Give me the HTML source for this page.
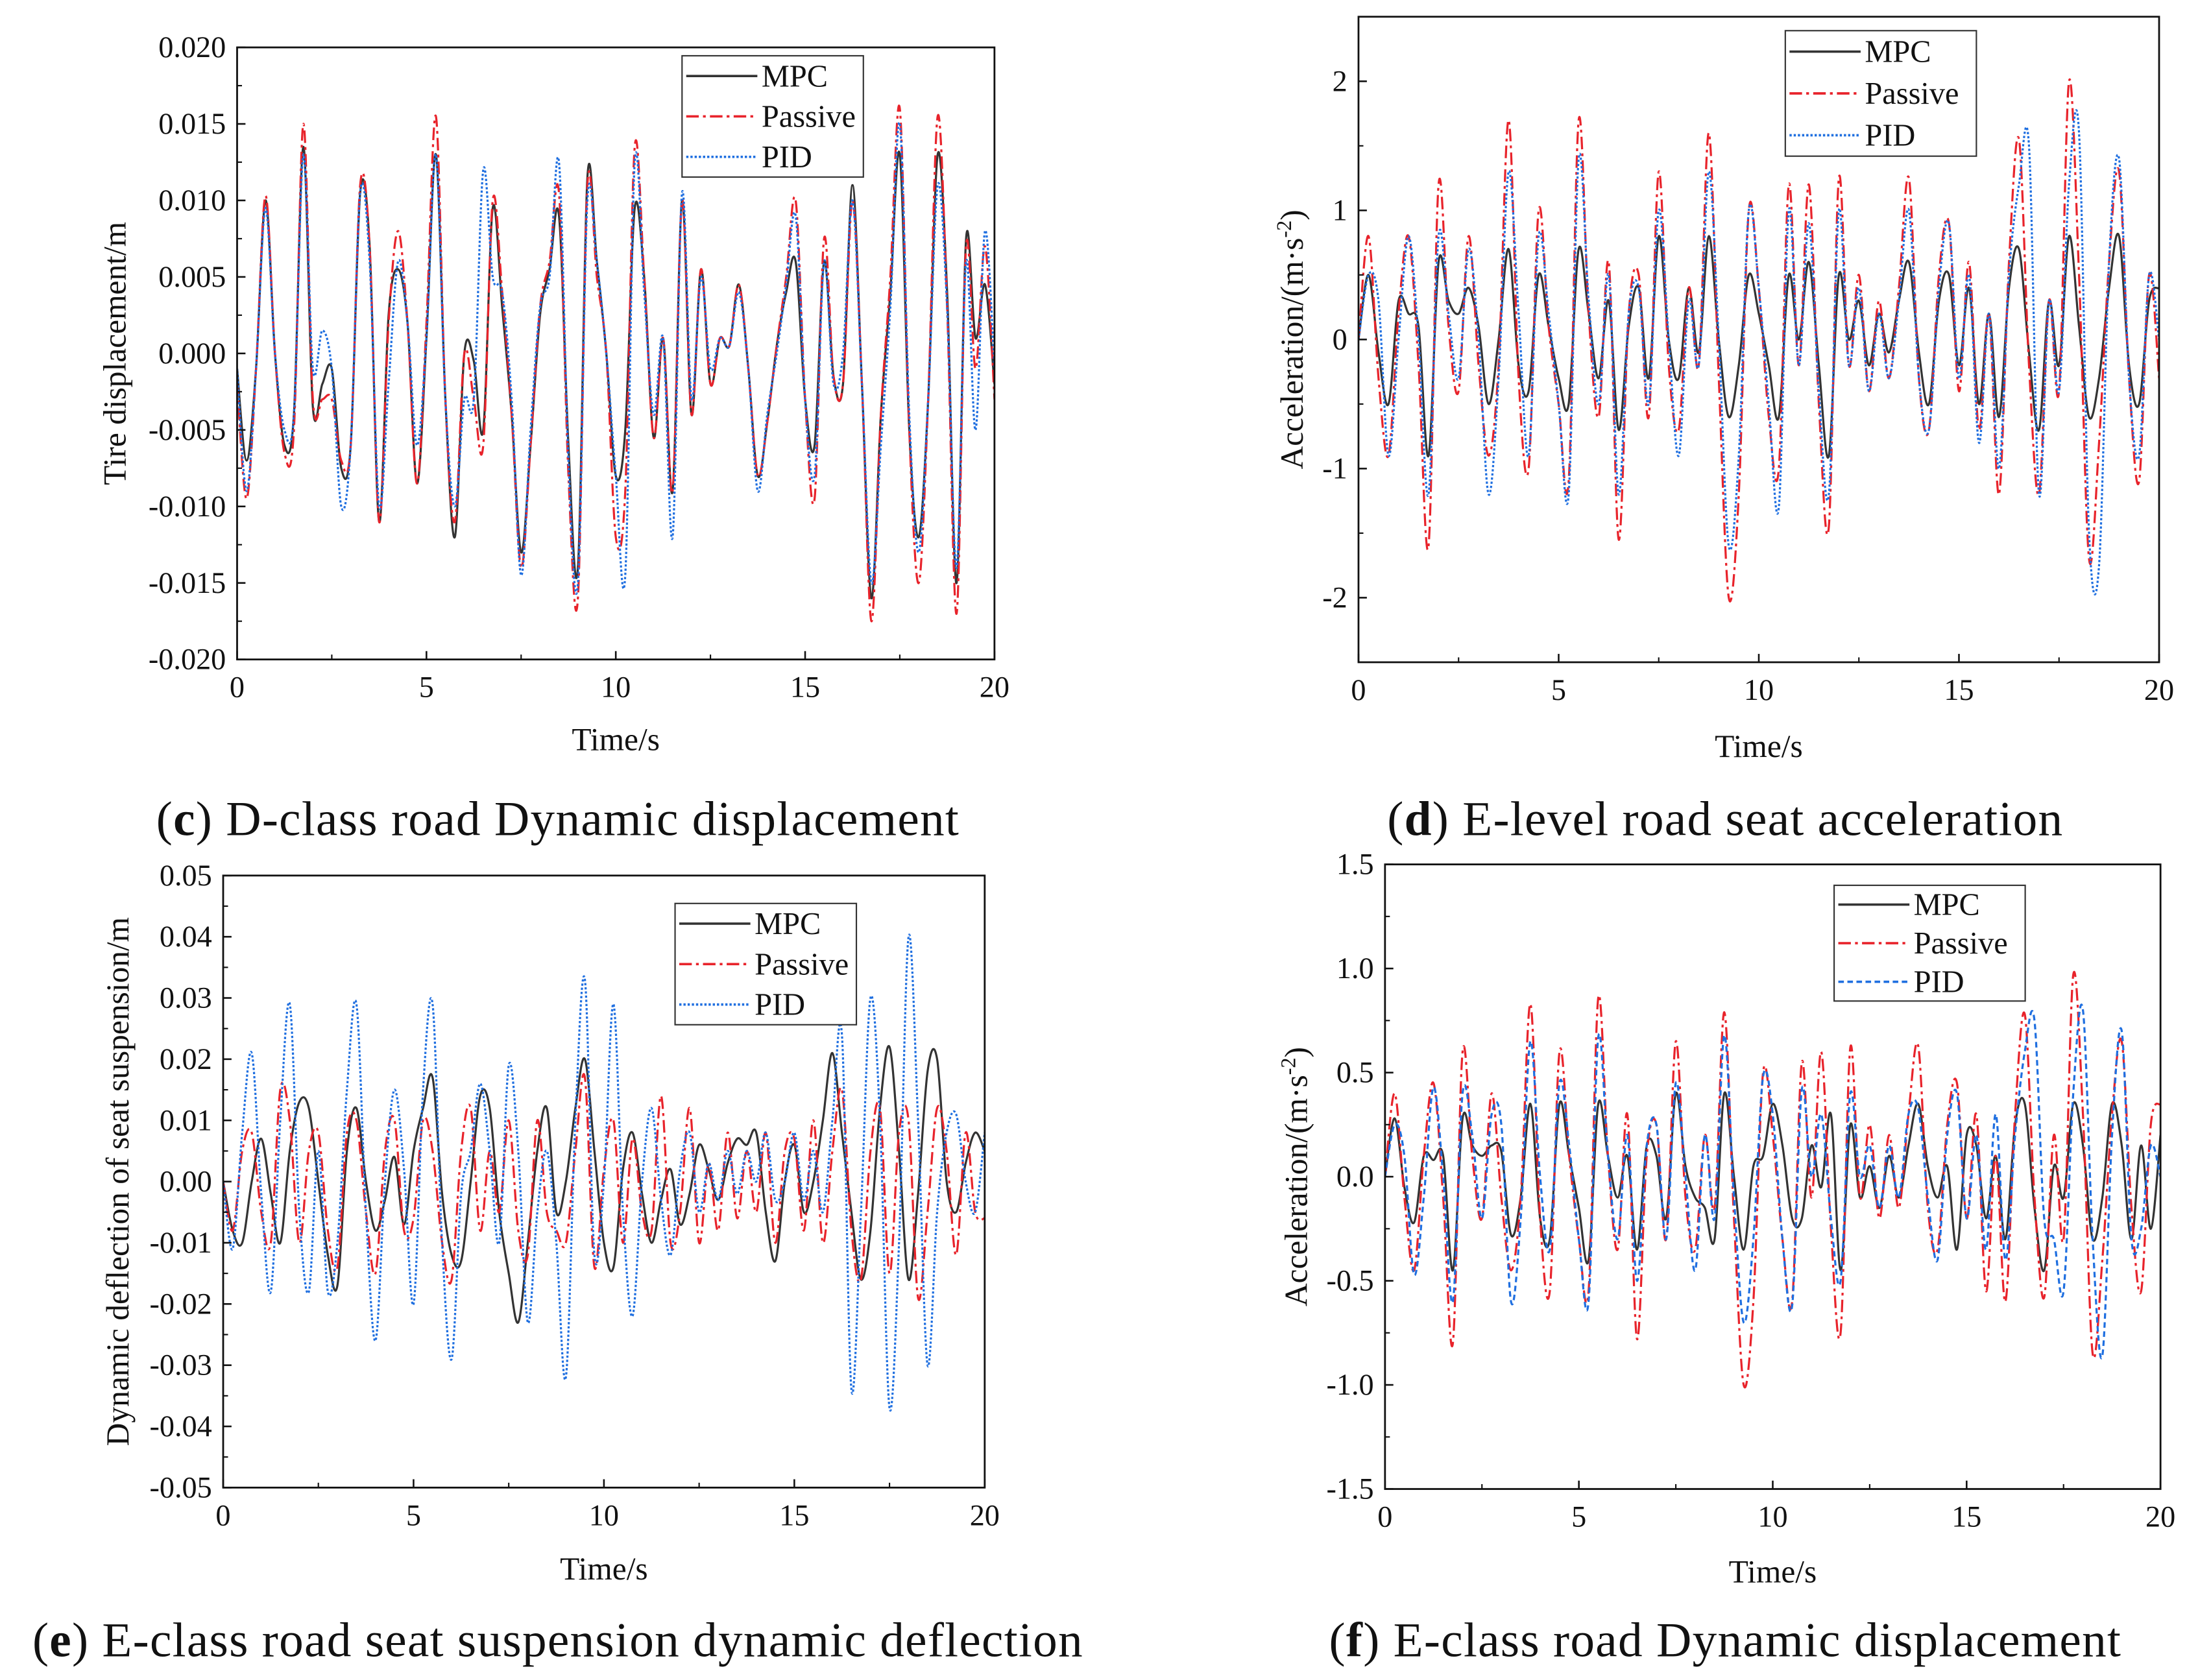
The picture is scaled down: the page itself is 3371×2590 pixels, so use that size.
<!DOCTYPE html>
<html><head><meta charset="utf-8"><style>
html,body{margin:0;padding:0;background:#fff}
svg{display:block}
text{font-family:"Liberation Serif",serif;fill:#111}
</style></head><body>
<svg id="fig" width="3371" height="2590" viewBox="0 0 1568 1205" preserveAspectRatio="none" xmlns="http://www.w3.org/2000/svg"></svg>
<script>
// ---------- data ----------
const times = []; for (let i = 0; i <= 80; i++) times.push(i * 0.25);
const xTicks = [0, 5, 10, 15, 20];

const cMPC = [-1,-7,-1,10,0,-6,-4,13.5,-3.5,-2,-1,-7.5,-6,10.5,7,-11,2.5,5.5,2,-8.5,1,13,-3,-12,0,-0.5,-5,9.5,3,-4,-13,-6,2.5,5.5,9,-6,-14,11.5,6,0,-8,-5,9.5,5,-5.5,1,-9,10,-4,5.5,-2,1,0.5,4.5,-1,-8,-4.5,0.5,4,6,-3,-6,6,-1.5,-2,11,-2,-16,-4,4,13,-5,-12,-3,13,4,-15,7.5,1,4.5,-2];
const cPassive = [-2,-9.5,-1,10.3,0,-6.5,-5,15,-3,-3,-3,-7,-6,11,7,-11,2,8,2,-8.5,2,15.5,-3,-11,0,-3,-6,10,4,-4,-14,-6,3,6,10.5,-8,-16,11,5,0,-12,-9,13.5,5,-5.5,1,-9,10,-4,5.5,-2,1,0.5,4.5,-1,-8,-4.5,0.5,5,10,-3,-9.5,7.5,-1.5,-2,10,-2,-17.5,-4,5,16,-5,-15,-3,15.5,3,-17,7,-1,7,-3];
const cPID = [-1,-9,-1,9.5,0,-5,-4,13,-1,1.5,-1,-10,-6,10.5,6,-10,-2,6,2,-6,1,13,-3,-10,-3,-3,12,5,4,-3,-14.5,-5,3,5,12.5,-7,-15,10,6,0,-8,-14.5,12.5,4,-4,1,-12,10.5,-3,5,-1,1,0.5,4,-1,-9,-4,0,4.5,9,-3,-8,6,-2,0,10,-2,-15,-6,3,15,-4,-13,-3,11,3,-14,6,-5,8,-1];

const dMPC = [0,0.5,-0.1,-0.5,0.3,0.2,0.1,-0.9,0.6,0.3,0.2,0.4,0.1,-0.5,0,0.7,-0.2,-0.4,0.5,0.1,-0.3,-0.5,0.7,0.2,-0.3,0.3,-0.7,0.1,0.4,-0.3,0.8,0,-0.3,0.4,-0.1,0.8,0,-0.6,-0.2,0.5,0.2,-0.2,-0.6,0.5,0,0.6,-0.2,-0.9,0.5,0,0.3,-0.2,0.2,-0.1,0.3,0.6,-0.1,-0.5,0.3,0.5,-0.2,0.4,-0.5,0.2,-0.6,0.4,0.7,-0.1,-0.7,0.3,-0.2,0.8,0.1,-0.6,-0.3,0.4,0.8,-0.2,-0.5,0.3,0.4];
const dPassive = [0,0.8,-0.3,-0.9,0.2,0.8,-0.2,-1.6,1.2,0.1,-0.4,0.8,-0.2,-0.9,-0.2,1.7,-0.3,-1.0,1.0,0.1,-0.5,-1.1,1.7,0.2,-0.6,0.6,-1.55,0.2,0.5,-0.6,1.3,-0.2,-0.7,0.4,-0.2,1.6,-0.3,-2.0,-1.2,1.0,0.4,-0.6,-1.0,1.2,-0.2,1.2,-0.5,-1.45,1.25,-0.2,0.5,-0.4,0.3,-0.3,0.4,1.25,-0.3,-0.7,0.5,0.9,-0.4,0.6,-0.7,0.2,-1.2,0.6,1.55,-0.2,-1.2,0.3,-0.4,2.0,0.5,-1.7,-0.8,0.6,1.3,-0.3,-1.1,0.5,-0.3];
const dPID = [0,0.5,0.3,-0.9,0,0.8,0,-1.2,0.8,0.2,-0.3,0.7,0,-1.2,-0.3,1.3,0.2,-0.9,0.8,0.2,-0.5,-1.2,1.4,0.3,-0.5,0.5,-1.2,0.2,0.4,-0.5,1.0,0,-0.9,0.3,-0.2,1.3,0,-1.6,-0.9,1.0,0.4,-0.5,-1.3,1.0,-0.2,0.9,-0.4,-1.2,1.0,-0.2,0.4,-0.4,0.2,-0.3,0.3,1.0,-0.3,-0.7,0.4,0.9,-0.3,0.5,-0.8,0.2,-1.0,0.5,1.2,1.5,-1.2,0.3,-0.4,1.2,1.6,-1.5,-1.75,0.6,1.4,-0.3,-0.9,0.5,0];

const eMPC = [0,-8,-10,0,7,-2,-10,5,13,12,0,-12,-17,5,12,0,-8,-3,4,-7,5,12,17,-2,-12,-13,0,14,12,-5,-15,-23,-10,5,12,-5,0,12,20,5,-10,-14,2,8,-2,-10,-3,2,-7,-2,6,2,-3,3,7,6,8,-5,-13,0,6,-5,0,10,21,8,-5,-16,-8,12,22,5,-16,-2,18,20,0,-5,3,8,5];
const ePassive = [0,-8,5,8,-5,-10,15,10,-10,5,8,-8,-14,8,10,-5,-15,5,10,-8,-6,10,5,-10,-16,5,12,-8,5,-5,10,-8,-12,10,-5,-8,-10,5,17,-14,2,10,-10,7,-5,-8,14,-10,-5,12,-10,3,-8,8,-6,5,-5,8,-10,5,7,-8,10,-10,5,15,-8,-16,5,12,-15,8,10,-19,-5,12,5,-12,8,-5,-6];
const ePID = [0,-11,8,21,-2,-18,10,29,-5,-18,5,-18,-10,15,29,-5,-26,0,15,2,-20,15,29,-10,-29,-2,5,16,5,-10,19,5,-23,-5,5,-10,-32,10,33,-12,0,29,-5,-22,0,12,-3,-12,2,8,-5,3,-3,5,-2,5,0,8,-3,0,8,-3,5,-5,10,24,-34,-5,30,10,-37,-10,40,10,-30,-5,8,11,0,-5,8];

const fMPC = [0,0.28,-0.05,-0.22,0.1,0.08,0.1,-0.45,0.28,0.15,0.1,0.15,0.12,-0.28,-0.1,0.35,-0.2,-0.3,0.35,0.1,-0.15,-0.4,0.35,0.1,-0.1,0.1,-0.35,0.15,0.1,-0.2,0.4,0.05,-0.1,-0.15,-0.3,0.4,0.0,-0.35,0.05,0.1,0.35,0.15,-0.2,-0.2,0.15,-0.05,0.3,-0.45,0.25,-0.1,0.05,-0.15,0.1,-0.1,0.15,0.35,0.05,-0.1,0.05,-0.35,0.2,0.15,-0.2,0.1,-0.3,0.25,0.35,-0.15,-0.45,0.05,-0.1,0.35,0.15,-0.3,-0.1,0.35,0.15,-0.3,0.15,-0.25,0.2];
const fPassive = [0,0.4,-0.1,-0.45,0.1,0.45,-0.1,-0.8,0.6,0.1,-0.2,0.4,-0.1,-0.45,-0.1,0.83,-0.2,-0.55,0.6,0.1,-0.3,-0.55,0.86,0.1,-0.35,0.3,-0.78,0.1,0.25,-0.3,0.65,-0.1,-0.35,0.2,-0.15,0.79,-0.2,-1.0,-0.6,0.5,0.2,-0.3,-0.6,0.55,-0.1,0.6,-0.25,-0.75,0.62,-0.1,0.25,-0.2,0.2,-0.15,0.3,0.63,-0.15,-0.35,0.25,0.45,-0.2,0.3,-0.55,0.1,-0.6,0.3,0.78,-0.1,-0.58,0.2,-0.3,0.97,0.3,-0.85,-0.4,0.3,0.65,-0.15,-0.55,0.25,0.35];
const fPID = [0,0.25,0.1,-0.47,-0.1,0.43,0,-0.6,0.4,0.2,-0.2,0.3,0.25,-0.6,-0.2,0.65,0,-0.35,0.45,0.15,-0.3,-0.6,0.67,0.1,-0.3,0.2,-0.5,0.15,0.25,-0.3,0.45,0,-0.45,0.2,-0.2,0.68,-0.1,-0.7,-0.3,0.48,0.3,-0.3,-0.62,0.42,0,0.3,-0.2,-0.5,0.4,0,0.15,-0.15,0.15,-0.1,0.3,0.33,-0.1,-0.4,0.2,0.4,-0.2,0.2,-0.35,0.3,-0.4,0.2,0.6,0.75,-0.2,-0.3,-0.55,0.4,0.8,-0.3,-0.86,0.2,0.7,-0.3,-0.25,0.15,0];

const cYTicks = [0.020,0.015,0.010,0.005,0.000,-0.005,-0.010,-0.015,-0.020];
const dYTicks = [2,1,0,-1,-2];
const eYTicks = [0.05,0.04,0.03,0.02,0.01,0.00,-0.01,-0.02,-0.03,-0.04,-0.05];
const fYTicks = [1.5,1.0,0.5,0.0,-0.5,-1.0,-1.5];

// ---------- drawing ----------
const NS = "http://www.w3.org/2000/svg";
const svg = document.getElementById('fig');
function mk(tag, attrs, parent) {
  const e = document.createElementNS(NS, tag);
  for (const k in attrs) e.setAttribute(k, attrs[k]);
  (parent || svg).appendChild(e);
  return e;
}
function smoothPath(pts) {
  let d = `M${pts[0][0].toFixed(2)},${pts[0][1].toFixed(2)}`;
  for (let i = 0; i < pts.length - 1; i++) {
    const p0 = pts[Math.max(0, i - 1)], p1 = pts[i], p2 = pts[i + 1], p3 = pts[Math.min(pts.length - 1, i + 2)];
    const c1x = p1[0] + (p2[0] - p0[0]) / 6, c1y = p1[1] + (p2[1] - p0[1]) / 6;
    const c2x = p2[0] - (p3[0] - p1[0]) / 6, c2y = p2[1] - (p3[1] - p1[1]) / 6;
    d += ` C${c1x.toFixed(2)},${c1y.toFixed(2)} ${c2x.toFixed(2)},${c2y.toFixed(2)} ${p2[0].toFixed(2)},${p2[1].toFixed(2)}`;
  }
  return d;
}
const STY = {
  MPC: {stroke: '#333', dash: ''},
  Passive: {stroke: '#e8232b', dash: '9 3 2 3'},
  PIDdot: {stroke: '#1f6fe0', dash: '1.6 1.4'},
  PIDdash: {stroke: '#1f6fe0', dash: '4 2.5'}
};

function panel(cfg) {
  const g = mk('g', {});
  
  
  const sx = t => cfg.x0 + (t - 0) / 20 * (cfg.x1 - cfg.x0);
  const sy = v => cfg.y1 - (v - cfg.ymin) / (cfg.ymax - cfg.ymin) * (cfg.y1 - cfg.y0);
  const clipId = cfg.name + '-clip';
  const cp = mk('clipPath', {id: clipId}, g);
  mk('rect', {x: cfg.x0, y: cfg.y0, width: cfg.x1 - cfg.x0, height: cfg.y1 - cfg.y0}, cp);
  const lines = mk('g', {'clip-path': `url(#${clipId})`}, g);
  cfg.series.forEach(s => {
    const pts = times.map((t, i) => [sx(t), sy(s.data[i] * cfg.unit)]);
    const p = mk('path', {d: smoothPath(pts), fill: 'none', stroke: s.sty.stroke, 'stroke-width': 1.5, 'stroke-dasharray': s.sty.dash, 'stroke-linejoin': 'round'}, lines);
    
    
  });
  const fr = mk('rect', {x: cfg.x0, y: cfg.y0, width: cfg.x1 - cfg.x0, height: cfg.y1 - cfg.y0, fill: 'none', stroke: '#111', 'stroke-width': 1.3}, g);
  
  
  xTicks.forEach(t => {
    mk('line', {x1: sx(t), x2: sx(t), y1: cfg.y1, y2: cfg.y1 - 6, stroke: '#111', 'stroke-width': 1.2}, g);
    const tx = mk('text', {x: sx(t), y: cfg.y1 + 27, 'font-size': 21.5, 'text-anchor': 'middle'}, g);
    tx.textContent = t;
    
    
  });
  xTicks.slice(0, -1).forEach(t => {
    mk('line', {x1: sx(t + 2.5), x2: sx(t + 2.5), y1: cfg.y1, y2: cfg.y1 - 3.5, stroke: '#111', 'stroke-width': 1}, g);
  });
  cfg.yticks.forEach((v, i) => {
    mk('line', {x1: cfg.x0, x2: cfg.x0 + 6, y1: sy(v), y2: sy(v), stroke: '#111', 'stroke-width': 1.2}, g);
    const tx = mk('text', {x: cfg.x0 - 8, y: sy(v) + 7, 'font-size': 21.5, 'text-anchor': 'end'}, g);
    tx.textContent = v.toFixed(cfg.dec);
    
    
    if (i < cfg.yticks.length - 1) {
      const m = (v + cfg.yticks[i + 1]) / 2;
      mk('line', {x1: cfg.x0, x2: cfg.x0 + 3.5, y1: sy(m), y2: sy(m), stroke: '#111', 'stroke-width': 1}, g);
    }
  });
  const xl = mk('text', {x: (cfg.x0 + cfg.x1) / 2, y: cfg.xlY, 'font-size': 23, 'text-anchor': 'middle'}, g);
  xl.textContent = 'Time/s';
  
  
  const yl = mk('text', {x: 0, y: 0, 'font-size': 23, 'text-anchor': 'middle', transform: `translate(${cfg.ylX},${(cfg.y0 + cfg.y1) / 2}) rotate(-90)`}, g);
  yl.innerHTML = cfg.ylabel;
  
  
  const L = cfg.legend;
  const lg = mk('g', {}, g);
  
  
  mk('rect', {x: L.x, y: L.y, width: L.w, height: L.h, fill: '#fff', stroke: '#333', 'stroke-width': 1}, lg);
  cfg.series.forEach((s, i) => {
    const yy = L.y + L.h * (i + 0.5) / 3;
    mk('line', {x1: L.x + 3, x2: L.x + 54, y1: yy, y2: yy, stroke: s.sty.stroke, 'stroke-width': 1.7, 'stroke-dasharray': s.sty.dash}, lg);
    const t = mk('text', {x: L.x + 57, y: yy + 7.5, 'font-size': 22.5}, lg);
    t.textContent = s.label;
    
    
  });
  const cap = mk('text', {x: cfg.capX, y: cfg.capY, 'font-size': 35, 'letter-spacing': 0.6, 'text-anchor': 'middle'}, g);
  cap.innerHTML = `(<tspan font-weight="bold">${cfg.letter}</tspan>) ${cfg.caption}`;
  
  
}

panel({name: 'panel-c', x0: 170, x1: 713, y0: 34, y1: 473, ymin: -0.02, ymax: 0.02, unit: 0.001,
  yticks: cYTicks, dec: 3, xlY: 538, ylX: 90, ylabel: 'Tire displacement/m',
  legend: {x: 489, y: 40, w: 130, h: 87},
  series: [{label: 'MPC', data: cMPC, sty: STY.MPC}, {label: 'Passive', data: cPassive, sty: STY.Passive}, {label: 'PID', data: cPID, sty: STY.PIDdot}],
  capX: 400, capY: 599, letter: 'c', caption: 'D-class road Dynamic displacement'});

panel({name: 'panel-d', x0: 974, x1: 1548, y0: 12, y1: 475, ymin: -2.5, ymax: 2.5, unit: 1,
  yticks: dYTicks, dec: 0, xlY: 543, ylX: 934, ylabel: 'Acceleration/(m·s<tspan baseline-shift="super" font-size="15">-2</tspan>)',
  legend: {x: 1280, y: 22, w: 137, h: 90},
  series: [{label: 'MPC', data: dMPC, sty: STY.MPC}, {label: 'Passive', data: dPassive, sty: STY.Passive}, {label: 'PID', data: dPID, sty: STY.PIDdot}],
  capX: 1237, capY: 599, letter: 'd', caption: 'E-level road seat acceleration'});

panel({name: 'panel-e', x0: 160, x1: 706, y0: 628, y1: 1067, ymin: -0.05, ymax: 0.05, unit: 0.001,
  yticks: eYTicks, dec: 2, xlY: 1133, ylX: 92, ylabel: 'Dynamic deflection of seat suspension/m',
  legend: {x: 484, y: 648, w: 130, h: 87},
  series: [{label: 'MPC', data: eMPC, sty: STY.MPC}, {label: 'Passive', data: ePassive, sty: STY.Passive}, {label: 'PID', data: ePID, sty: STY.PIDdot}],
  capX: 400, capY: 1188, letter: 'e', caption: 'E-class road seat suspension dynamic deflection'});

panel({name: 'panel-f', x0: 993, x1: 1549, y0: 620, y1: 1068, ymin: -1.5, ymax: 1.5, unit: 1,
  yticks: fYTicks, dec: 1, xlY: 1135, ylX: 937, ylabel: 'Acceleration/(m·s<tspan baseline-shift="super" font-size="15">-2</tspan>)',
  legend: {x: 1315, y: 635, w: 137, h: 83},
  series: [{label: 'MPC', data: fMPC, sty: STY.MPC}, {label: 'Passive', data: fPassive, sty: STY.Passive}, {label: 'PID', data: fPID, sty: STY.PIDdash}],
  capX: 1237, capY: 1188, letter: 'f', caption: 'E-class road Dynamic displacement'});
</script>
</body></html>
